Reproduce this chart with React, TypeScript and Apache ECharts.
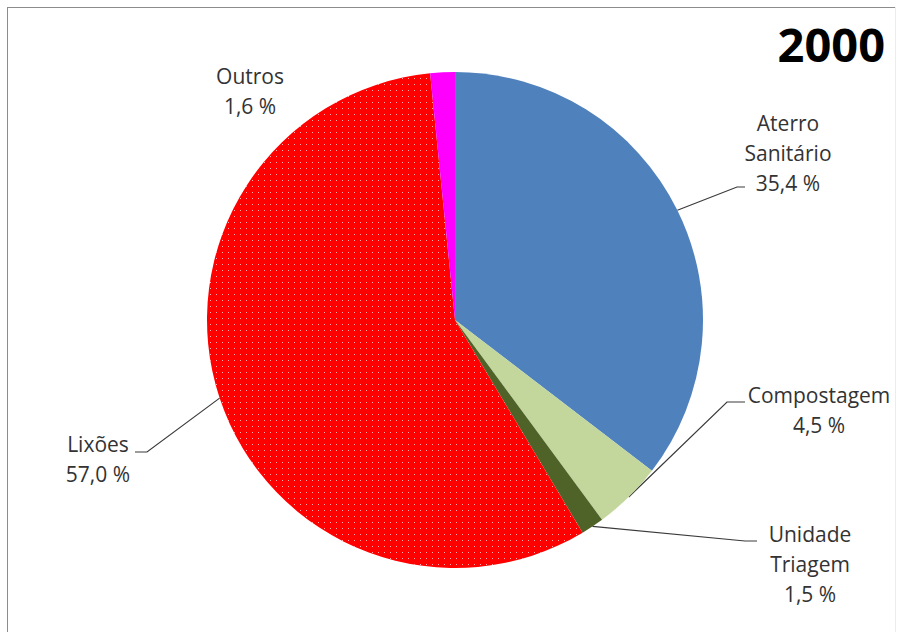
import React, { useEffect, useRef } from "react";
import * as echarts from "echarts";

const categories = ["Aterro\nSanitário", "Compostagem", "Unidade\nTriagem", "Lixões", "Outros"];
const values = [35.4, 4.5, 1.5, 57.0, 1.6];
const colors = ["#4F81BD", "#C3D69B", "#4F6228", "#FF0000", "#FF00FF"];
const yearLabel = "2000";

// layout (positions/sizes)
const CX = 455;
const CY = 320;
const R = 248;
const labelPos: [number, number][] = [
  [788, 153],
  [819, 410],
  [810, 564],
  [98, 459],
  [250, 91],
];
const elbows: ([number, number][] | null)[] = [
  [[737, 187], [745, 187]],
  [[727, 402], [745, 402]],
  [[745, 541], [757, 541]],
  [[147, 452], [135, 452]],
  null,
];

function anchorOf(i: number): [number, number] {
  const total = values.reduce((a, b) => a + b, 0);
  let cum = 0;
  for (let k = 0; k < i; k++) cum += values[k];
  const theta = ((cum + values[i] / 2) / total) * Math.PI * 2;
  return [CX + R * Math.sin(theta), CY - R * Math.cos(theta)];
}

export default function App() {
  const ref = useRef<HTMLDivElement>(null);
  useEffect(() => {
    if (!ref.current) return;
    const chart = echarts.init(ref.current, undefined, { renderer: "svg" });
    const data = categories.map((name, i) => {
      const item: any = {
        name,
        value: values[i],
        itemStyle: { color: colors[i] },
      };
      if (i === 3) {
        item.itemStyle.decal = {
          symbol: "rect",
          symbolSize: 1,
          color: "rgba(255,230,230,0.75)",
          dashArrayX: [1, 4.3],
          dashArrayY: [1, 4.3],
          rotation: 0,
        };
      }
      if (!elbows[i]) item.labelLine = { show: false };
      return item;
    });
    chart.setOption({
      animation: false,
      backgroundColor: "#ffffff",
      graphic: [
        {
          type: "line",
          shape: { x1: 7, y1: 7.5, x2: 896, y2: 7.5 },
          style: { stroke: "#8c8c8c", lineWidth: 1 },
          silent: true,
        },
        {
          type: "line",
          shape: { x1: 7.5, y1: 7, x2: 7.5, y2: 640 },
          style: { stroke: "#8c8c8c", lineWidth: 1 },
          silent: true,
        },
        {
          type: "line",
          shape: { x1: 895.5, y1: 7, x2: 895.5, y2: 640 },
          style: { stroke: "#ececec", lineWidth: 1 },
          silent: true,
        },
        {
          type: "text",
          right: 17,
          top: 20,
          style: {
            text: yearLabel,
            font: "bold 47px 'Open Sans'",
            fill: "#000000",
          },
          silent: true,
        },
      ],
      series: [
        {
          type: "pie",
          center: [CX, CY],
          radius: R,
          startAngle: 90,
          clockwise: true,
          avoidLabelOverlap: false,
          silent: true,
          data,
          label: {
            show: true,
            position: "outside",
            fontFamily: "'Open Sans'",
            fontSize: 21,
            lineHeight: 30,
            color: "#333333",
            align: "center",
            formatter: (p: any) =>
              `${p.name}\n${Number(p.value).toFixed(1).replace(".", ",")} %`,
          },
          labelLine: {
            show: true,
            lineStyle: { color: "#3a3a3a", width: 1.2 },
          },
          labelLayout: (params: any) => {
            const i = params.dataIndex;
            const [lx, ly] = labelPos[i];
            const out: any = { x: lx, y: ly, align: "center", verticalAlign: "middle" };
            const el = elbows[i];
            if (el) {
              out.labelLinePoints = [anchorOf(i), el[0], el[1]];
            }
            return out;
          },
        },
      ],
    });
    return () => chart.dispose();
  }, []);
  return (
    <div
      ref={ref}
      style={{ position: "fixed", left: 0, top: 0, width: 902, height: 632 }}
    />
  );
}
